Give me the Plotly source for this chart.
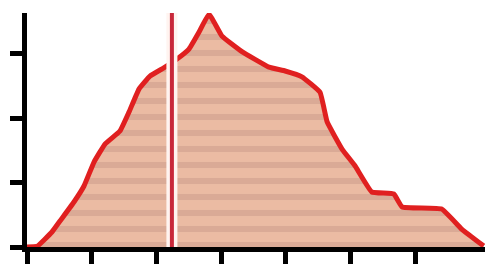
import plotly.graph_objects as go

# Distribution curve
x_vals = [0.0, 0.155, 0.386, 0.51, 0.726, 0.881, 1.036, 1.206, 1.437, 1.577, 1.731, 1.901,
          2.133, 2.318, 2.504, 2.658, 2.813, 3.014, 3.323, 3.74, 3.99, 4.25, 4.53, 4.64,
          4.87, 5.07, 5.33, 5.67, 5.80, 6.41, 6.72, 7.06]
y_vals = [0.0, 0.01, 0.233, 0.403, 0.698, 0.946, 1.318, 1.597, 1.798, 2.093, 2.45, 2.651,
          2.79, 2.915, 3.07, 3.33, 3.612, 3.271, 3.03, 2.79, 2.73, 2.64, 2.40, 1.94,
          1.52, 1.26, 0.853, 0.822, 0.62, 0.589, 0.279, 0.016]

marker_x = 2.24
x_ticks = [0, 1, 2, 3, 4, 5, 6]
y_ticks = [0, 1, 2, 3]
x_max = 7.08
y_max = 3.63

fig = go.Figure()
fig.add_trace(go.Scatter(
    x=x_vals, y=y_vals, mode="lines", fill="tozeroy",
    line=dict(color="#e02020", width=5, shape="spline", smoothing=0.3),
    fillcolor="#ebbba3",
    fillpattern=dict(shape="-", bgcolor="#ebbba3", fgcolor="#c99a8a", size=16, solidity=0.38),
    hoverinfo="skip", showlegend=False,
))
fig.add_trace(go.Scatter(
    x=[marker_x, marker_x], y=[0, y_max], mode="lines",
    line=dict(color="#fff4f0", width=11), hoverinfo="skip", showlegend=False,
))
fig.add_trace(go.Scatter(
    x=[marker_x, marker_x], y=[0, y_max], mode="lines",
    line=dict(color="#c8283a", width=4), hoverinfo="skip", showlegend=False,
))

fig.update_layout(
    width=485, height=270,
    margin=dict(l=27, r=0, t=13, b=23),
    paper_bgcolor="white", plot_bgcolor="white",
    xaxis=dict(range=[0, x_max], showgrid=False, zeroline=False, showline=True,
               linecolor="black", linewidth=5, ticks="outside", ticklen=12, tickwidth=5,
               tickcolor="black", tickvals=x_ticks, showticklabels=False, fixedrange=True),
    yaxis=dict(range=[0, y_max], showgrid=False, zeroline=False, showline=True,
               linecolor="black", linewidth=5, ticks="outside", ticklen=12, tickwidth=5,
               tickcolor="black", tickvals=y_ticks, showticklabels=False, fixedrange=True),
)

fig.write_html("out.html")
